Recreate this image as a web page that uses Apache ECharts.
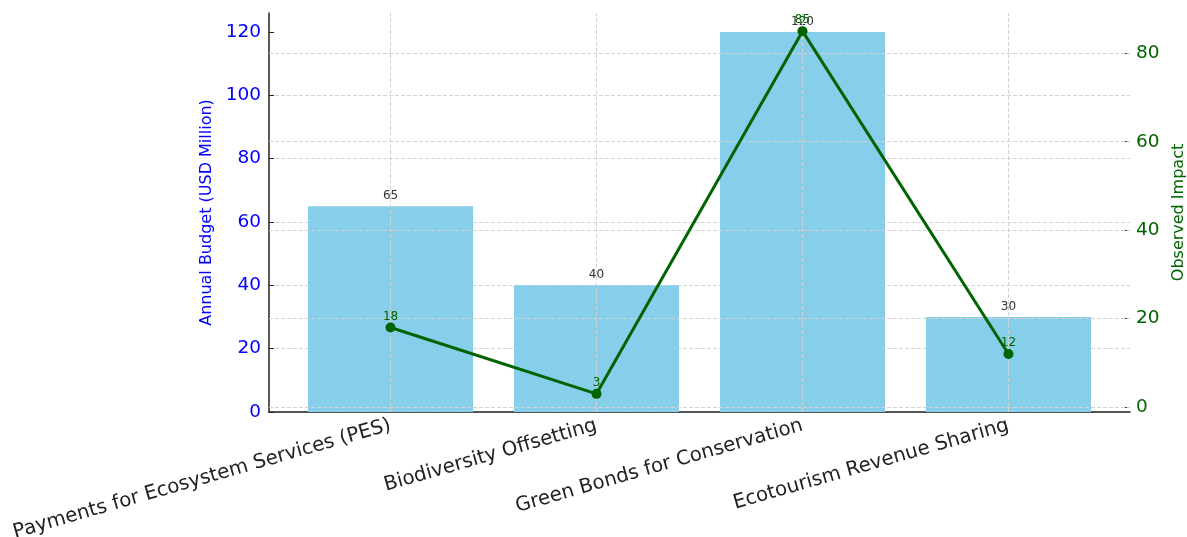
<!DOCTYPE html>
<html>
<head>
<meta charset="utf-8">
<script src="https://cdn.jsdelivr.net/npm/echarts@6/dist/echarts.min.js"></script>
<style>
  html, body { margin: 0; padding: 0; background: #fff; overflow: hidden; }
  #chart { width: 1187px; height: 537px; }
</style>
</head>
<body>
<div id="chart"></div>
<script>
// Conservation finance mechanisms: annual budget (bars) vs observed impact (line)
const categories = [
  'Payments for Ecosystem Services (PES)',
  'Biodiversity Offsetting',
  'Green Bonds for Conservation',
  'Ecotourism Revenue Sharing'
];
const budget = [65, 40, 120, 30];
const impact = [18, 3, 85, 12];
const budgetTicks = [0, 20, 40, 60, 80, 100, 120];
const impactTicks = [0, 20, 40, 60, 80];

const FONT = 'DejaVu Sans';
const gridLine = { type: 'dashed', color: '#d3d3d3', width: 1 };
const catIndex = categories.map((_, i) => i);

const chart = echarts.init(document.getElementById('chart'), null, { renderer: 'canvas' });

chart.setOption({
  animation: false,
  backgroundColor: '#fff',
  textStyle: { fontFamily: FONT },
  grid: { left: 269, right: 57, top: 13, bottom: 125, containLabel: false, outerBoundsMode: 'none' },
  xAxis: {
    type: 'value',
    min: -0.59,
    max: 3.59,
    axisLine: { show: true, onZero: false, lineStyle: { color: '#222', width: 1.5 } },
    axisTick: { show: true, inside: true, length: 5, customValues: catIndex, lineStyle: { color: '#222' } },
    axisLabel: {
      customValues: catIndex,
      formatter: v => categories[Math.round(v)],
      rotate: 16,
      margin: 13,
      fontSize: 19.8,
      color: '#222',
      fontFamily: FONT
    },
    splitLine: { show: false }
  },
  yAxis: [
    {
      type: 'value',
      position: 'left',
      min: 0,
      max: 126,
      interval: 20,
      name: 'Annual Budget (USD Million)',
      nameLocation: 'middle',
      nameGap: 53,
      nameTextStyle: { color: 'blue', fontSize: 16, fontFamily: FONT },
      axisLine: { show: true, onZero: false, lineStyle: { color: '#222', width: 1.5 } },
      axisTick: { show: true, inside: true, length: 5, customValues: budgetTicks, lineStyle: { color: '#222' } },
      axisLabel: { customValues: budgetTicks, color: 'blue', fontSize: 18.5, margin: 8, fontFamily: FONT },
      splitLine: { show: true, showMaxLine: false, lineStyle: gridLine }
    },
    {
      type: 'value',
      position: 'right',
      min: -1.1,
      max: 89.1,
      name: 'Observed Impact',
      nameLocation: 'middle',
      nameRotate: 90,
      nameGap: 40,
      nameTextStyle: { color: '#006400', fontSize: 16, fontFamily: FONT },
      axisLine: { show: false, onZero: false },
      axisTick: { show: true, inside: true, length: 5, customValues: impactTicks, lineStyle: { color: '#444' } },
      axisLabel: { customValues: impactTicks, color: '#006400', fontSize: 18.5, margin: 6, fontFamily: FONT },
      splitLine: { show: false }
    }
  ],
  series: [
    {
      name: 'Annual Budget',
      type: 'bar',
      yAxisIndex: 0,
      barWidth: 165,
      data: budget.map((v, i) => [i, v]),
      itemStyle: { color: '#87CEEB' },
      label: { show: true, position: 'top', distance: 4, color: '#333', fontSize: 12, fontFamily: FONT },
      // vertical grid at each category
      markLine: {
        silent: true,
        symbol: ['none', 'none'],
        label: { show: false },
        lineStyle: gridLine,
        emphasis: { disabled: true },
        data: catIndex.map(i => ({ xAxis: i }))
      }
    },
    {
      name: 'Observed Impact',
      type: 'line',
      yAxisIndex: 1,
      z: 10,
      data: impact.map((v, i) => [i, v]),
      symbol: 'circle',
      symbolSize: 10,
      itemStyle: { color: '#006400' },
      lineStyle: { color: '#006400', width: 3 },
      label: { show: true, position: 'top', distance: 0, color: '#006400', fontSize: 12, fontFamily: FONT },
      // horizontal grid for the right-hand scale
      markLine: {
        silent: true,
        symbol: ['none', 'none'],
        label: { show: false },
        lineStyle: gridLine,
        emphasis: { disabled: true },
        data: impactTicks.map(v => ({ yAxis: v }))
      }
    }
  ]
});
</script>
</body>
</html>
